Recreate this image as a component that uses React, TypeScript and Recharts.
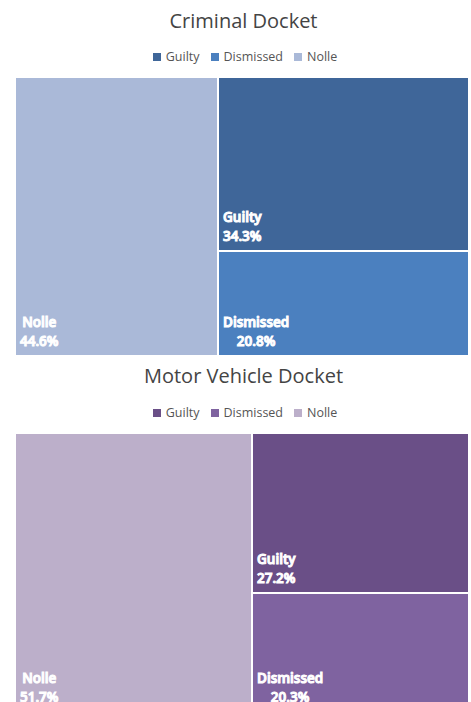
import React from "react";
import { Treemap } from "recharts";

const categories = ["Guilty", "Dismissed", "Nolle"];
const criminalValues = [34.3, 20.8, 44.6];
const motorValues = [27.2, 20.3, 51.7];

const criminalColors = ["#3f6699", "#4b80bf", "#aab9d8"];
const motorColors = ["#6a4f87", "#7f63a0", "#bcafca"];

const FONT = "'Open Sans', sans-serif";
const LABEL_FONT = `600 13.5px ${FONT}`;

let ctx: CanvasRenderingContext2D | null = null;
function textWidth(text: string, font: string) {
    if (!ctx) ctx = document.createElement("canvas").getContext("2d");
    if (!ctx) return text.length * 7.5;
    ctx.font = font;
    return ctx.measureText(text).width;
}

// biggest first, so the squarify layout puts Nolle on the left
function buildData(values: number[]) {
    return categories
        .map((name, i) => ({ name, size: values[i] }))
        .sort((a, b) => b.size - a.size);
}

function CellContent(props: any) {
    const { x, y, width, height, depth, name, colors } = props;
    if (depth !== 1) return <g />;
    const value = props.size ?? props.value;
    const fill = colors[categories.indexOf(name)];
    const pct = `${value}%`;
    const w = Math.max(textWidth(name, LABEL_FONT), textWidth(pct, LABEL_FONT));
    const cx = x + 5 + w / 2;
    const bottom = y + height;
    const textProps = {
        x: cx,
        textAnchor: "middle" as const,
        fill: "#fff",
        fontSize: 13.5,
        fontWeight: 600,
        fontFamily: FONT,
    };
    return (
        <g>
            <rect x={x} y={y} width={width} height={height} fill={fill} stroke="#fff" strokeWidth={2} />
            <text {...textProps} y={bottom - 29}>{name}</text>
            <text {...textProps} y={bottom - 10}>{pct}</text>
        </g>
    );
}

function Legend({ colors, top }: { colors: string[]; top: number }) {
    return (
        <div
            style={{
                position: "absolute",
                top,
                left: 0,
                width: 490,
                display: "flex",
                justifyContent: "center",
                alignItems: "center",
                fontFamily: FONT,
                fontSize: 12.5,
                lineHeight: 1,
                color: "#555",
            }}
        >
            {categories.map((c, i) => (
                <div key={c} style={{ display: "flex", alignItems: "center", marginRight: i < categories.length - 1 ? 11 : 0 }}>
                    <span style={{ width: 8, height: 8, background: colors[i], marginRight: 5, display: "inline-block" }} />
                    <span>{c}</span>
                </div>
            ))}
        </div>
    );
}

function Title({ text, top }: { text: string; top: number }) {
    return (
        <div
            style={{
                position: "absolute",
                top,
                left: 0,
                width: 487,
                textAlign: "center",
                fontFamily: FONT,
                fontSize: 20,
                lineHeight: 1,
                color: "#444",
            }}
        >
            {text}
        </div>
    );
}

function DocketTreemap({ values, colors, top }: { values: number[]; colors: string[]; top: number }) {
    return (
        <div style={{ position: "absolute", top, left: 15 }}>
            <Treemap
                width={454}
                height={279}
                data={buildData(values)}
                dataKey="size"
                nameKey="name"
                aspectRatio={1}
                stroke="#fff"
                isAnimationActive={false}
                content={<CellContent colors={colors} />}
            />
        </div>
    );
}

export default function App() {
    return (
        <div style={{ position: "fixed", top: 0, left: 0, width: 471, height: 702, overflow: "hidden", background: "#fff" }}>
            <Title text="Criminal Docket" top={11} />
            <Legend colors={criminalColors} top={51} />
            <DocketTreemap values={criminalValues} colors={criminalColors} top={77} />
            <Title text="Motor Vehicle Docket" top={366} />
            <Legend colors={motorColors} top={407} />
            <DocketTreemap values={motorValues} colors={motorColors} top={433} />
        </div>
    );
}
